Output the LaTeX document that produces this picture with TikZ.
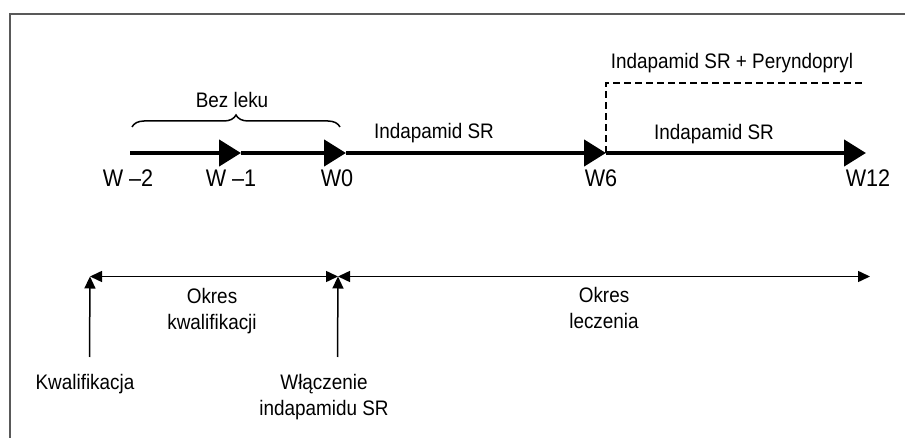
\documentclass[tikz,border=0pt]{standalone}
\usepackage{fontspec}
\setmainfont[FakeStretch=0.9]{Liberation Sans}
\usetikzlibrary{arrows.meta,decorations.pathreplacing}
\begin{document}
\begin{tikzpicture}[x=1bp,y=-1bp,
  lbl/.style={inner sep=0pt, font=\fontsize{21bp}{26bp}\selectfont, align=center, anchor=north},
  wlbl/.style={inner sep=0pt, font=\fontsize{24bp}{28bp}\selectfont, anchor=north},
  frameline/.style={draw=black!65, line width=1.8bp},
  mainline/.style={line width=4.5bp, -{Triangle[length=22bp,width=26bp]}},
  thinline/.style={line width=1.5bp},
  smalltip/.style={-{Triangle[length=12bp,width=11bp]}},
  bothtips/.style={{Triangle[length=12bp,width=11bp]}-{Triangle[length=12bp,width=11bp]}},
  dashline/.style={line width=1.2bp, dash pattern=on 7bp off 4bp},
  bracestyle/.style={line width=1.5bp, decorate, decoration={brace, amplitude=12bp}}
]
\useasboundingbox (0,0) rectangle (905,438);
% frame
\coordinate (f0) at (10,438);
\coordinate (f1) at (10,14);
\coordinate (f2) at (905,14);
\draw[frameline] (f0) -- (f1) -- (f2);

% main timeline
\coordinate (tm2) at (130,153);
\coordinate (tm1) at (241,153);
\coordinate (t0) at (346,153);
\coordinate (t6) at (606,153);
\coordinate (t12) at (866,153);
\draw[mainline] (tm2) -- (tm1);
\draw[mainline] (tm1) -- (t0);
\draw[mainline] (t0) -- (t6);
\draw[mainline] (t6) -- (t12);

\node[wlbl] (lm2) at (128,170) {W –2};
\node[wlbl] (lm1) at (231,170) {W –1};
\node[wlbl] (l0) at (337,170) {W0};
\node[wlbl] (l6) at (601,170) {W6};
\node[wlbl] (l12) at (868,170) {W12};

% brace
\coordinate (b0) at (132,127);
\coordinate (b1) at (340,127);
\draw[bracestyle] (b0) -- (b1);
\node[lbl] (bez) at (232,92) {Bez leku};

\node[lbl] (ind1) at (434,123) {Indapamid SR};
\node[lbl] (ind2) at (714,124) {Indapamid SR};
\node[lbl] (indp) at (732,53) {Indapamid SR + Peryndopryl};

% dashed
\coordinate (d1) at (606,83);
\coordinate (d2) at (865,83);
\draw[dashline] (t6) -- (d1) -- (d2);

% bottom periods
\coordinate (q0) at (90,276.5);
\coordinate (q1) at (338,276.5);
\coordinate (q2) at (870,276.5);
\draw[thinline, bothtips] (q0) -- (q1);
\draw[thinline, bothtips] (q1) -- (q2);
\coordinate (k0) at (89.5,357);
\coordinate (k1) at (337.5,357);
\draw[thinline, smalltip] (k0) -- (q0);
\draw[thinline, smalltip] (k1) -- (q1);

\node[lbl] (okq) at (212,288) {Okres\\kwalifikacji};
\node[lbl] (okl) at (604,287) {Okres\\leczenia};
\node[lbl] (kw) at (85,374) {Kwalifikacja};
\node[lbl] (wl) at (324,374) {Włączenie\\indapamidu SR};
\end{tikzpicture}
\end{document}
